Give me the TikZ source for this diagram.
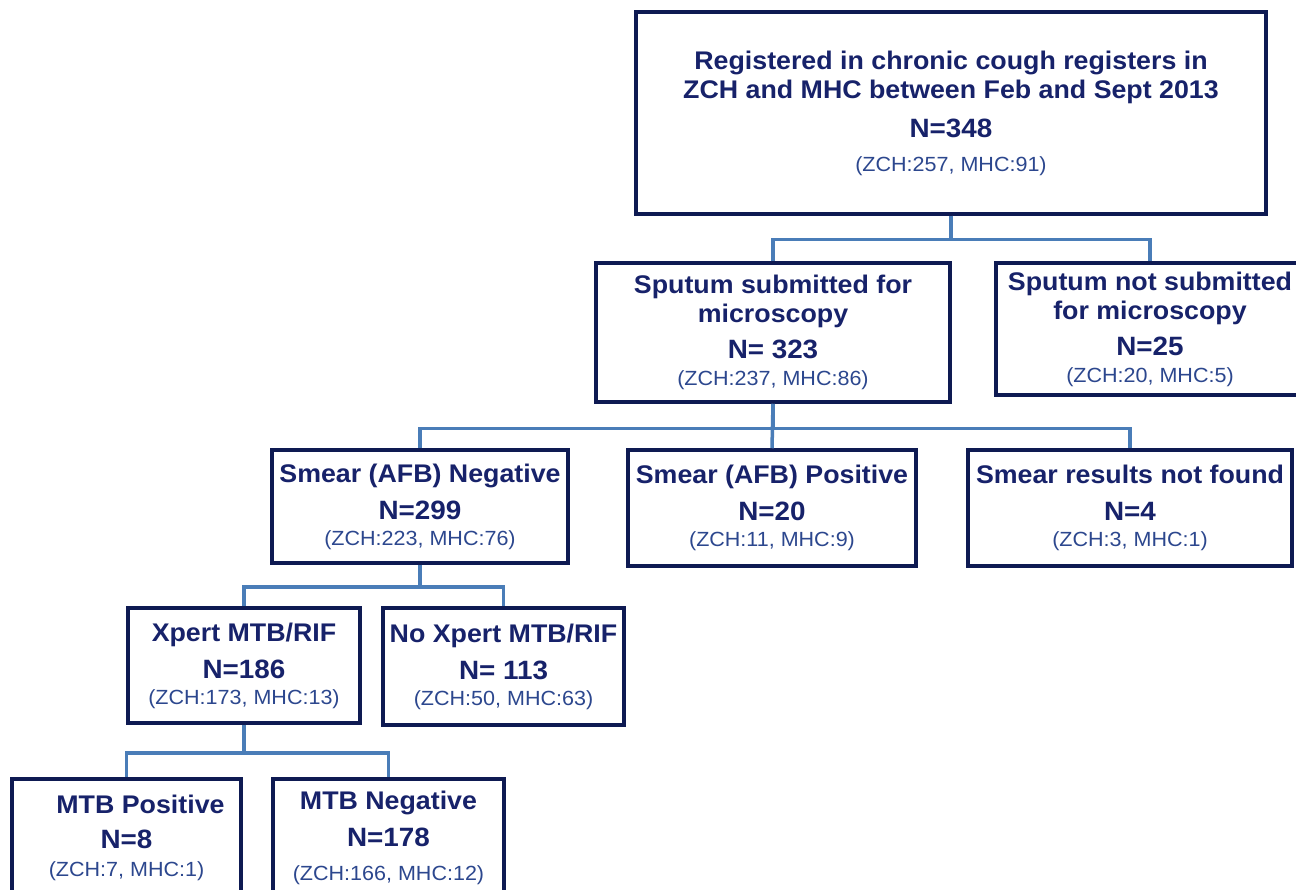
\documentclass[tikz,border=0pt]{standalone}
\usepackage{fontspec}
\setmainfont{Liberation Sans}[FakeStretch=1.05]
\usepackage{tikz}
\usetikzlibrary{calc}

\definecolor{boxline}{HTML}{0E1A52}
\definecolor{boxtxt}{HTML}{17226A}
\definecolor{subtxt}{HTML}{2C478E}
\definecolor{linkline}{HTML}{4A7DB8}

\newcommand{\nval}{\fontsize{26.5}{28}\selectfont}
\newcommand{\sitecount}{\mdseries\color{subtxt}\fontsize{20.5}{24}\selectfont}

\begin{document}
\begin{tikzpicture}[x=1pt, y=-1pt,
    box/.style={draw=boxline, line width=3.5pt, align=center, text=boxtxt, inner sep=0pt,
        font=\bfseries\fontsize{25.5}{29}\selectfont},
    link/.style={draw=linkline, line width=3.5pt}]
    \useasboundingbox[fill=white] (0,0) rectangle (1296,890);

    \node[box, minimum width=630, minimum height=202] (reg) at (951,113)
        {Registered in chronic cough registers in\\ZCH and MHC between Feb and Sept 2013\\[10pt]
         {\nval N=348}\\[5pt]{\sitecount (ZCH:257, MHC:91)}};

    \node[box, minimum width=354, minimum height=139] (sub) at (773,332.5)
        {Sputum submitted for\\microscopy\\[7pt]{\nval N= 323}\\[-2pt]{\sitecount (ZCH:237, MHC:86)}};
    \node[box, minimum width=308, minimum height=132] (notsub) at (1150,329)
        {Sputum not submitted\\for microscopy\\[7pt]{\nval N=25}\\[-2pt]{\sitecount (ZCH:20, MHC:5)}};

    \node[box, minimum width=296, minimum height=113] (neg) at (420,506.5)
        {Smear (AFB) Negative\\[8pt]{\nval N=299}\\[-3pt]{\sitecount (ZCH:223, MHC:76)}};
    \node[box, minimum width=288, minimum height=116] (pos) at (772,508)
        {Smear (AFB) Positive\\[8pt]{\nval N=20}\\[-3pt]{\sitecount (ZCH:11, MHC:9)}};
    \node[box, minimum width=324, minimum height=116] (notfound) at (1130,508)
        {Smear results not found\\[8pt]{\nval N=4}\\[-3pt]{\sitecount (ZCH:3, MHC:1)}};

    \node[box, minimum width=232, minimum height=115] (xpert) at (244,665.5)
        {Xpert MTB/RIF\\[8pt]{\nval N=186}\\[-3pt]{\sitecount (ZCH:173, MHC:13)}};
    \node[box, minimum width=241, minimum height=117] (noxpert) at (503.5,666.5)
        {No Xpert MTB/RIF\\[8pt]{\nval N= 113}\\[-3pt]{\sitecount (ZCH:50, MHC:63)}};

    \node[box, minimum width=229, minimum height=118] (mtbpos) at (126.5,838)
        {\hspace*{28pt}MTB Positive\\[6pt]{\nval N=8}\\[-1pt]{\sitecount (ZCH:7, MHC:1)}};
    \node[box, minimum width=231, minimum height=118] (mtbneg) at (388.5,838)
        {MTB Negative\\[8pt]{\nval N=178}\\[5pt]{\sitecount (ZCH:166, MHC:12)}};

    % elbow links
    \draw[link] (reg.south) -- ++(0,24) -| (sub.north);
    \draw[link] (reg.south) -- ++(0,24) -| (notsub.north);
    \draw[link] (sub.south) -- ++(0,25) -| (neg.north);
    \draw[link] (sub.south) -- (pos.north);
    \draw[link] (sub.south) -- ++(0,25) -| (notfound.north);
    \draw[link] (neg.south) -- ++(0,22) -| (xpert.north);
    \draw[link] (neg.south) -- ++(0,22) -| (noxpert.north);
    \draw[link] (xpert.south) -- ++(0,28) -| (mtbpos.north);
    \draw[link] (xpert.south) -- ++(0,28) -| (mtbneg.north);
\end{tikzpicture}
\end{document}
